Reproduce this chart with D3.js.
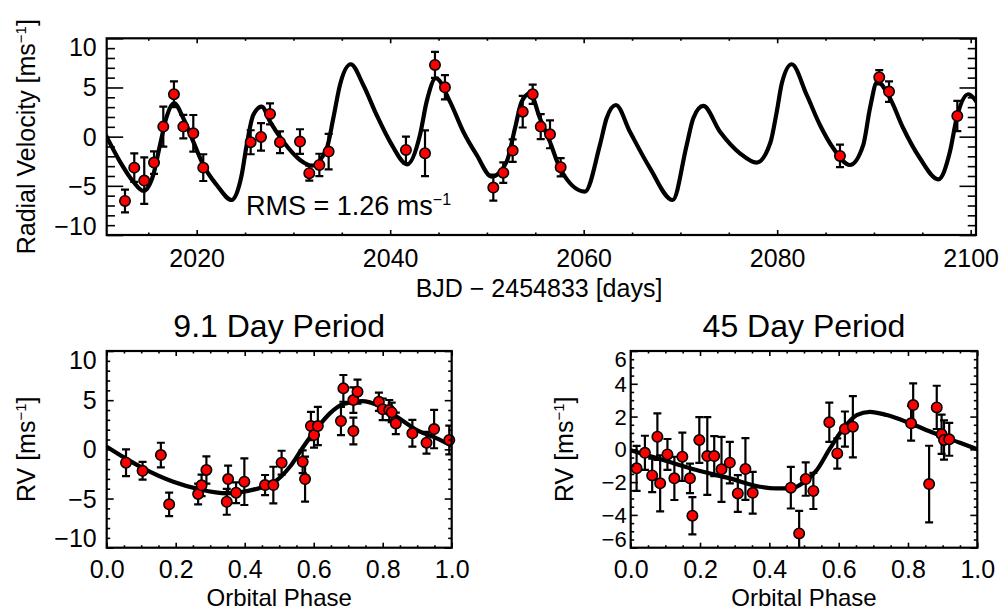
<!DOCTYPE html>
<html><head><meta charset="utf-8">
<script src="https://cdn.jsdelivr.net/npm/d3@7"></script>
<style>
body{margin:0;background:#fff}
svg{display:block}
text{font-family:"Liberation Sans",Arial,Helvetica,sans-serif;fill:#000}
</style>
</head><body>
<svg id="c" width="1002" height="611"></svg>
<script>
// ---------------- DATA ----------------
// Top panel: RV time series
const timeBJD = [2012.59,2013.55,2014.58,2015.59,2016.55,2017.65,2018.62,2019.65,2020.68,2025.58,2026.65,2027.58,2028.61,2030.68,2031.64,2032.68,2033.64,2041.63,2043.60,2044.63,2045.66,2050.66,2051.69,2052.66,2053.70,2054.73,2055.56,2056.52,2057.62,2086.49,2090.55,2091.56,2098.62];
const timeRV  = [-6.54,-3.15,-4.47,-2.64,1.02,4.31,1.02,0.34,-3.15,-0.57,-0.03,2.31,-0.57,-0.50,-3.72,-2.88,-1.52,-1.35,-1.69,7.29,5.02,-5.18,-3.66,-1.42,2.54,4.31,1.02,0.24,-3.11,-1.96,6.04,4.58,2.10];
const timeErr = [1.15,1.44,2.37,1.15,2.03,1.32,1.19,1.86,1.36,1.22,1.40,1.07,1.10,1.25,0.76,1.14,1.80,1.36,2.32,1.32,1.24,1.32,1.05,1.14,1.61,0.97,1.27,1.42,0.93,1.14,0.73,1.05,1.53];
// Two-planet model curve
const modelTime = [2010.64,2012.07,2013.45,2014.48,2015.51,2016.21,2016.90,2017.65,2018.62,2019.65,2020.68,2022.07,2023.62,2024.65,2025.17,2025.85,2026.72,2027.58,2028.95,2030.68,2031.89,2033.44,2034.12,2034.81,2035.92,2037.22,2038.60,2039.98,2041.77,2043.08,2043.77,2044.73,2046.18,2047.56,2048.94,2050.49,2052.04,2052.90,2053.59,2054.45,2055.48,2056.50,2057.55,2060.13,2061.68,2062.37,2063.33,2064.78,2066.85,2069.20,2070.65,2071.33,2072.36,2074.09,2076.15,2077.88,2079.30,2079.95,2080.50,2081.50,2083.05,2084.42,2085.80,2087.52,2088.90,2089.59,2090.35,2091.66,2093.03,2094.76,2096.65,2097.86,2098.55,2099.75,2100.60];
const modelRV   = [0.10,-2.54,-4.58,-5.52,-3.90,-0.84,2.03,3.40,1.87,-0.50,-2.88,-4.91,-6.44,-3.90,-0.84,2.20,3.05,1.53,-0.50,-2.37,-2.95,-1.18,1.87,5.26,7.36,5.26,2.20,-0.50,-2.81,0.17,3.56,5.94,3.56,0.50,-1.86,-4.07,-2.54,0.85,3.56,4.41,1.87,-0.50,-3.20,-5.59,-0.84,1.87,3.22,0.50,-3.20,-6.44,-0.84,1.87,3.12,0.50,-1.69,-2.64,-0.60,2.50,5.50,7.36,4.24,1.19,-1.18,-2.88,-0.84,2.89,5.60,3.90,0.85,-2.20,-4.34,-1.52,1.87,4.31,3.56];

// Bottom-left: 9.1 day period, phased
const phase9 = [0.056,0.104,0.157,0.181,0.265,0.275,0.289,0.348,0.352,0.375,0.399,0.459,0.483,0.507,0.568,0.575,0.592,0.601,0.612,0.679,0.686,0.715,0.715,0.727,0.789,0.800,0.819,0.826,0.838,0.886,0.927,0.949,0.993];
const rv9    = [-1.36,-2.18,-0.58,-5.59,-4.54,-3.66,-2.10,-5.33,-3.02,-4.41,-3.29,-3.63,-3.63,-1.36,-1.26,-3.02,2.37,1.45,2.37,2.88,6.20,5.01,1.86,5.86,4.84,4.07,4.00,3.76,2.64,1.63,0.67,2.06,0.95];
const err9   = [1.36,0.90,1.25,1.19,1.05,1.10,1.39,1.32,1.36,1.05,2.37,1.02,1.86,1.22,1.15,2.29,1.44,1.27,1.95,1.44,1.36,1.30,1.36,1.22,0.93,1.10,1.02,1.00,1.10,1.36,1.10,1.95,1.47];
const model9Phase = [0,0.05,0.106,0.193,0.27,0.348,0.377,0.454,0.483,0.531,0.57,0.609,0.647,0.686,0.739,0.792,0.841,0.899,0.957,1.0];
const model9RV    = [0.27,-0.82,-1.93,-3.29,-4.07,-4.47,-4.41,-3.80,-3.39,-1.77,0.27,2.13,3.66,4.60,4.91,4.40,3.32,1.96,1.12,0.37];

// Bottom-right: 45 day period, phased
const phase45 = [0.017,0.041,0.062,0.077,0.085,0.106,0.126,0.149,0.171,0.178,0.198,0.221,0.241,0.262,0.286,0.309,0.331,0.352,0.462,0.486,0.505,0.527,0.573,0.596,0.618,0.641,0.809,0.815,0.861,0.883,0.897,0.904,0.919];
const rv45    = [-1.16,-0.21,-1.59,0.77,-2.07,-0.31,-1.77,-0.45,-1.77,-4.05,0.57,-0.41,-0.41,-1.22,-0.81,-2.69,-1.20,-2.65,-2.34,-5.13,-1.81,-2.54,1.65,-0.25,1.24,1.38,1.59,2.70,-2.12,2.56,0.92,0.57,0.61];
const err45   = [1.37,1.04,1.02,1.42,1.71,0.94,1.32,1.47,0.90,1.14,1.40,2.37,1.22,1.98,1.27,1.12,1.88,1.27,1.27,1.38,1.02,1.10,1.20,0.92,1.07,1.87,1.06,1.32,2.34,1.32,1.20,1.20,1.00];
const model45Phase = [0,0.094,0.19,0.286,0.373,0.42,0.462,0.498,0.537,0.575,0.614,0.652,0.69,0.739,0.806,0.873,0.95,1.0];
const model45RV    = [-0.06,-0.65,-1.26,-1.77,-2.28,-2.38,-2.38,-2.04,-1.26,0.06,1.28,2.09,2.29,2.09,1.59,1.01,0.40,0.00];

// Tick labels
const timeTicks  = [2020,2040,2060,2080,2100];
const rvTopTicks = [-10,-5,0,5,10];
const phaseTicks = [0.0,0.2,0.4,0.6,0.8,1.0];
const rv9Ticks   = [-10,-5,0,5,10];
const rv45Ticks  = [-6,-4,-2,0,2,4,6];

// ---------------- DRAWING ----------------
const svg = d3.select("#c");
const FONT = '"Liberation Sans", Arial, Helvetica, sans-serif';

function minorTicks(domain, step, majors){
  const lo = Math.ceil(domain[0]/step - 1e-9), hi = Math.floor(domain[1]/step + 1e-9);
  const out = [];
  for (let i = lo; i <= hi; i++){
    const v = +(i*step).toFixed(6);
    if (!majors.some(m => Math.abs(m - v) < 1e-6)) out.push(v);
  }
  return out;
}

function styleAxis(sel, fs){
  sel.attr("font-size", fs || 25).attr("font-family", FONT);
  sel.select(".domain").remove();
  sel.selectAll("line").attr("stroke", "#000").attr("stroke-width", 1.6);
  sel.selectAll("text").attr("fill", "#000");
}

function panel(o){
  const x = d3.scaleLinear().domain(o.xDomain).range([o.left, o.right]);
  const y = d3.scaleLinear().domain(o.yDomain).range([o.bottom, o.top]);
  const g = svg.append("g");
  svg.append("clipPath").attr("id", o.id).append("rect")
    .attr("x", o.left).attr("y", o.top).attr("width", o.right - o.left).attr("height", o.bottom - o.top);
  const clip = `url(#${o.id})`;

  // model curve
  const line = d3.line().x(d => x(d[0])).y(d => y(d[1])).curve(d3.curveMonotoneX);
  g.append("path").datum(d3.zip(o.mx, o.my)).attr("d", line)
    .attr("fill", "none").attr("stroke", "#000").attr("stroke-width", 4.2)
    .attr("stroke-linejoin", "round").attr("stroke-linecap", "round").attr("clip-path", clip);

  // error bars
  const pts = d3.zip(o.px, o.py, o.pe);
  const eb = g.append("g").attr("clip-path", clip).attr("stroke", "#000").attr("stroke-width", 2.2);
  eb.selectAll("line.v").data(pts).join("line").attr("class", "v")
    .attr("x1", d => x(d[0])).attr("x2", d => x(d[0]))
    .attr("y1", d => y(d[1] - d[2])).attr("y2", d => y(d[1] + d[2]));
  const cap = 4;
  eb.selectAll("line.t").data(pts).join("line").attr("class", "t")
    .attr("x1", d => x(d[0]) - cap).attr("x2", d => x(d[0]) + cap)
    .attr("y1", d => y(d[1] + d[2])).attr("y2", d => y(d[1] + d[2]));
  eb.selectAll("line.b").data(pts).join("line").attr("class", "b")
    .attr("x1", d => x(d[0]) - cap).attr("x2", d => x(d[0]) + cap)
    .attr("y1", d => y(d[1] - d[2])).attr("y2", d => y(d[1] - d[2]));

  // points
  g.append("g").selectAll("circle").data(pts).join("circle")
    .attr("cx", d => x(d[0])).attr("cy", d => y(d[1])).attr("r", 5.2)
    .attr("fill", "#ff0000").attr("stroke", "#000").attr("stroke-width", 1.6);

  // axes (ticks inward on all sides)
  const xMin = minorTicks(o.xDomain, o.xMinorStep, o.xTicks);
  const yMin = minorTicks(o.yDomain, o.yMinorStep, o.yTicks);

  const bx = g.append("g").attr("transform", `translate(0,${o.bottom})`)
    .call(d3.axisBottom(x).tickValues(o.xTicks).tickSize(-o.xMaj).tickPadding(o.xPad).tickFormat(o.xFmt));
  styleAxis(bx);
  styleAxis(g.append("g").attr("transform", `translate(0,${o.bottom})`)
    .call(d3.axisBottom(x).tickValues(xMin).tickSize(-o.xMaj/2).tickFormat("")));
  styleAxis(g.append("g").attr("transform", `translate(0,${o.top})`)
    .call(d3.axisTop(x).tickValues(o.xTicks).tickSize(-o.xMaj).tickFormat("")));
  styleAxis(g.append("g").attr("transform", `translate(0,${o.top})`)
    .call(d3.axisTop(x).tickValues(xMin).tickSize(-o.xMaj/2).tickFormat("")));

  const ly = g.append("g").attr("transform", `translate(${o.left},0)`)
    .call(d3.axisLeft(y).tickValues(o.yTicks).tickSize(-o.yMaj).tickPadding(o.yPad).tickFormat(o.yFmt));
  styleAxis(ly, o.yFont);
  ly.selectAll("text").attr("dy", d => d === o.yDomain[1] ? o.yTopDy : (d === o.yDomain[0] ? o.yBotDy : "0.34em"));
  styleAxis(g.append("g").attr("transform", `translate(${o.left},0)`)
    .call(d3.axisLeft(y).tickValues(yMin).tickSize(-o.yMaj/2).tickFormat("")));
  styleAxis(g.append("g").attr("transform", `translate(${o.right},0)`)
    .call(d3.axisRight(y).tickValues(o.yTicks).tickSize(-o.yMaj).tickFormat("")));
  styleAxis(g.append("g").attr("transform", `translate(${o.right},0)`)
    .call(d3.axisRight(y).tickValues(yMin).tickSize(-o.yMaj/2).tickFormat("")));

  // frame
  g.append("rect").attr("x", o.left).attr("y", o.top)
    .attr("width", o.right - o.left).attr("height", o.bottom - o.top)
    .attr("fill", "none").attr("stroke", "#000").attr("stroke-width", 2.2);
  return {x, y};
}

const minus = s => String(s).replace("-", "\u2212");
const fmtInt = d => minus(d3.format("d")(d));
const fmt1 = d => minus(d3.format(".1f")(d));

// Top panel
panel({id:"cTop", left:106.7, right:976, top:38.3, bottom:235,
  xDomain:[2010.7, 2100.55], yDomain:[-10, 10],
  xTicks:timeTicks, yTicks:rvTopTicks, xMinorStep:5, yMinorStep:1,
  xFmt:fmtInt, yFmt:fmtInt, xMaj:5, yMaj:16.5, xPad:14, yPad:10,
  yFont:25, yTopDy:"0.68em", yBotDy:"-0.03em",
  px:timeBJD, py:timeRV, pe:timeErr, mx:modelTime, my:modelRV});

// Bottom-left panel
panel({id:"c9", left:106.7, right:451.7, top:351, bottom:547.7,
  xDomain:[0, 1], yDomain:[-10, 10],
  xTicks:phaseTicks, yTicks:rv9Ticks, xMinorStep:0.05, yMinorStep:1,
  xFmt:fmt1, yFmt:fmtInt, xMaj:5, yMaj:7, xPad:13, yPad:10,
  yFont:25, yTopDy:"0.68em", yBotDy:"-0.03em",
  px:phase9, py:rv9, pe:err9, mx:model9Phase, my:model9RV});

// Bottom-right panel
panel({id:"c45", left:630.7, right:977.3, top:351, bottom:547.7,
  xDomain:[0, 1], yDomain:[-6, 6],
  xTicks:phaseTicks, yTicks:rv45Ticks, xMinorStep:0.05, yMinorStep:0.5,
  xFmt:fmt1, yFmt:fmtInt, xMaj:5, yMaj:7, xPad:13, yPad:4,
  yFont:22, yTopDy:"0.72em", yBotDy:"-0.04em",
  px:phase45, py:rv45, pe:err45, mx:model45Phase, my:model45RV});

// ---------------- TEXT ----------------
function supLabel(parent, x, y, main, sup, tail, size, supSize, rise, rotate, anchor){
  const t = parent.append("text").attr("font-size", size).attr("font-family", FONT)
    .attr("text-anchor", anchor || "middle")
    .attr("transform", `translate(${x},${y})` + (rotate ? " rotate(-90)" : ""));
  t.append("tspan").text(main);
  t.append("tspan").attr("font-size", supSize).attr("dy", -rise).text(sup);
  if (tail) t.append("tspan").attr("font-size", size).attr("dy", rise).text(tail);
  return t;
}

supLabel(svg, 35, 136.7, "Radial Velocity [ms", "\u22121", "]", 25, 15, 9, true);
svg.append("text").attr("x", 539).attr("y", 297).attr("text-anchor", "middle").attr("font-size", 25)
  .text("BJD \u2212 2454833 [days]");
supLabel(svg, 246, 215, "RMS = 1.26 ms", "\u22121", null, 27, 16, 10, false, "start");

svg.append("text").attr("x", 279.2).attr("y", 337).attr("text-anchor", "middle").attr("font-size", 32).text("9.1 Day Period");
svg.append("text").attr("x", 804).attr("y", 337).attr("text-anchor", "middle").attr("font-size", 32).text("45 Day Period");

supLabel(svg, 35, 449.3, "RV [ms", "\u22121", "]", 25, 15, 9, true);
supLabel(svg, 573, 449.3, "RV [ms", "\u22121", "]", 25, 15, 9, true);

svg.append("text").attr("x", 279.2).attr("y", 605.5).attr("text-anchor", "middle").attr("font-size", 24).text("Orbital Phase");
svg.append("text").attr("x", 804).attr("y", 605.5).attr("text-anchor", "middle").attr("font-size", 24).text("Orbital Phase");
</script>
</body></html>
